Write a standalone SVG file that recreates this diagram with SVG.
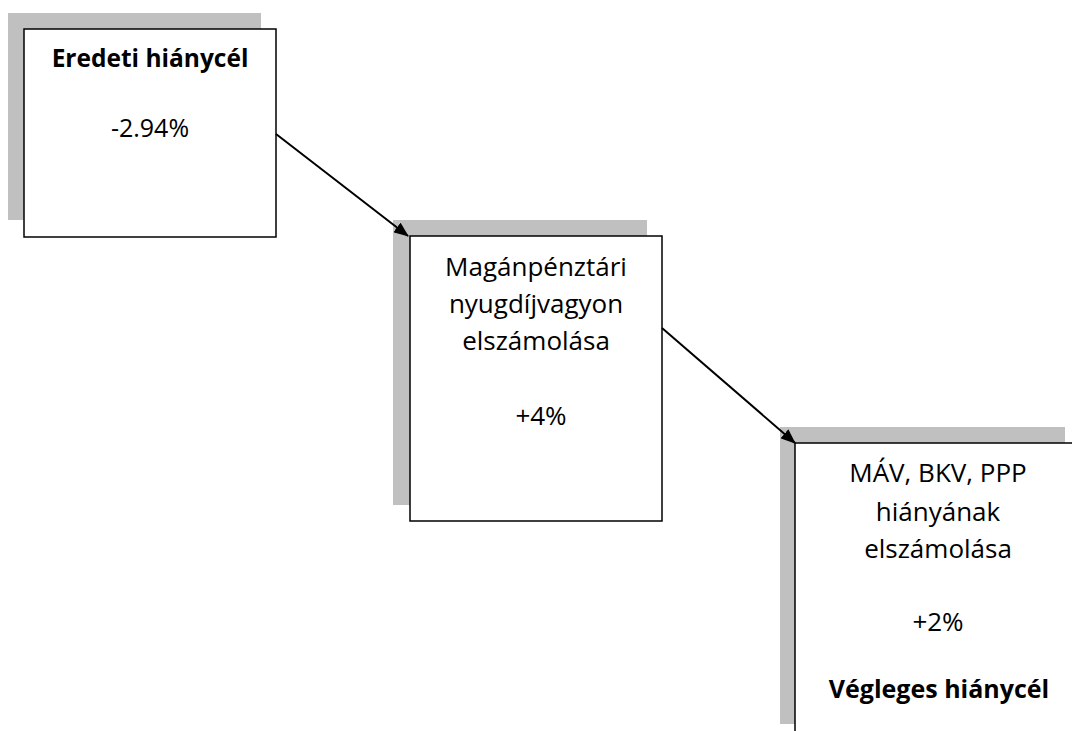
<svg xmlns="http://www.w3.org/2000/svg" width="1072" height="731" viewBox="0 0 1072 731">
<style>
.shadow{fill:#c0c0c0;stroke:none}
.box{fill:#fff;stroke:#000;stroke-width:1.5}
.t{font-family:"Open Sans","Liberation Sans",sans-serif;fill:#000;text-anchor:middle}
.b{font-weight:bold}
.conn{stroke:#000;stroke-width:2;fill:none}
</style>
<defs>
<marker id="ah" markerWidth="15" markerHeight="12" refX="14" refY="6" orient="auto" markerUnits="userSpaceOnUse" viewBox="0 0 15 12">
<path d="M0,0 L15,6 L0,12 z" fill="#000"/>
</marker>
</defs>
<rect width="1072" height="731" fill="#fff"/>
<g id="node1">
<rect class="shadow" x="8" y="13" width="253" height="207"/>
<rect class="box" x="24" y="29" width="252" height="208"/>
<text class="t b" x="150" y="67" font-size="24.5">Eredeti hiánycél</text>
<text class="t" x="150" y="137" font-size="25">-2.94%</text>
</g>
<g id="node2">
<rect class="shadow" x="393" y="220" width="254" height="285"/>
<rect class="box" x="410" y="236" width="252" height="285"/>
<text class="t" x="536" y="276" font-size="26">Magánpénztári</text>
<text class="t" x="536" y="313" font-size="26">nyugdíjvagyon</text>
<text class="t" x="536" y="350" font-size="26">elszámolása</text>
<text class="t" x="541" y="425" font-size="26">+4%</text>
</g>
<g id="node3">
<rect class="shadow" x="780" y="427" width="285" height="297"/>
<rect class="box" x="795" y="443" width="290" height="300"/>
<text class="t" x="938" y="482" font-size="26">MÁV, BKV, PPP</text>
<text class="t" x="938" y="521" font-size="26">hiányának</text>
<text class="t" x="938" y="558" font-size="26">elszámolása</text>
<text class="t" x="938" y="631" font-size="26">+2%</text>
<text class="t b" x="939" y="698" font-size="25">Végleges hiánycél</text>
</g>
<g id="connectors">
<line class="conn" x1="276" y1="134" x2="408" y2="236" marker-end="url(#ah)"/>
<line class="conn" x1="662" y1="328" x2="795" y2="443" marker-end="url(#ah)"/>
</g>
</svg>
